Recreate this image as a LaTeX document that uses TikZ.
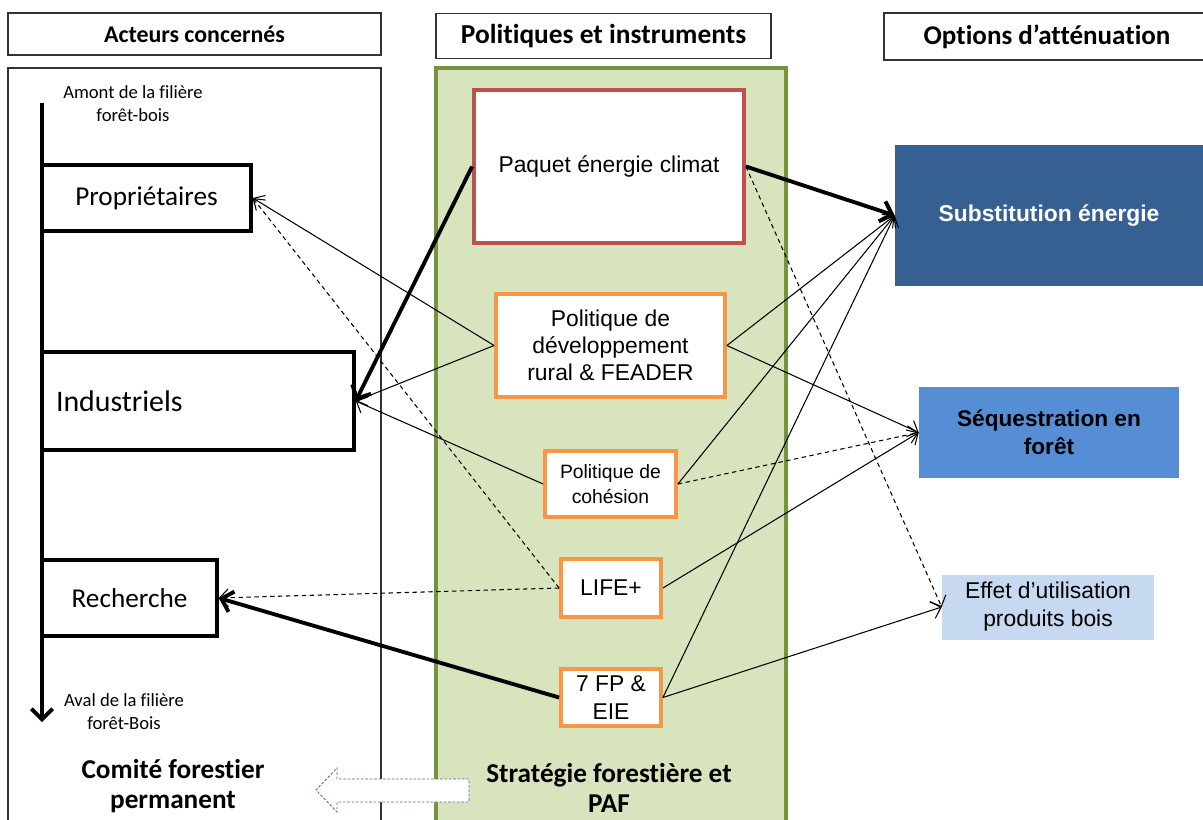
\documentclass[tikz,border=0pt]{standalone}
\usepackage{fontspec}
\setmainfont{Carlito}[Ligatures=NoCommon]
\newfontfamily\arialfont{Liberation Sans}
\usetikzlibrary{arrows.meta}

\definecolor{vertfond}{HTML}{D7E4BD}
\definecolor{vertbord}{HTML}{77933C}
\definecolor{rougebord}{HTML}{C0504D}
\definecolor{orangebord}{HTML}{F79646}
\definecolor{bleufonce}{HTML}{376092}
\definecolor{bleumoyen}{HTML}{558ED5}
\definecolor{bleuclair}{HTML}{C6D9F1}
\definecolor{bleutrait}{HTML}{4A6A9C}

\begin{document}
\begin{tikzpicture}
  [x=0.02cm,y=-0.02cm,
   every node/.style={inner sep=0pt},
   entete/.style={draw=black!80,line width=0.7pt,font=\bfseries},
   acteur/.style={draw,line width=2pt,fill=white},
   petit/.style={align=center,font=\fontsize{10.6}{13}\selectfont},
   titre/.style={align=center,font=\bfseries\fontsize{15.5}{17.5}\selectfont},
   politique/.style={draw=orangebord,line width=2.2pt,fill=white,align=center,
                     font=\arialfont\fontsize{13}{15.5}\selectfont},
   option/.style={align=center,font=\arialfont\fontsize{13}{16}\selectfont},
   lien/.style={line width=0.6pt,-{Straight Barb[length=5pt,width=10pt]}},
   pointille/.style={lien,dash pattern=on 2.5pt off 2pt},
   epais/.style={line width=2.2pt,-{Straight Barb[length=6pt,width=12pt]}}]

  \useasboundingbox (0,0) rectangle (1203,819);
  \clip (0,0) rectangle (1203,819);

  % en-tetes
  \node[entete,minimum width=7.46cm,minimum height=0.84cm,font=\bfseries\fontsize{13.6}{15}\selectfont] (hacteurs) at (194.5,34) {Acteurs concernés};
  \node[entete,minimum width=6.7cm,minimum height=0.9cm,font=\bfseries\fontsize{15.6}{18}\selectfont] (hpolitiques) at (603.5,36) {Politiques et instruments};
  \node[entete,minimum width=6.52cm,minimum height=0.94cm,font=\bfseries\fontsize{15.4}{18}\selectfont] (hoptions) at (1047,36.5) {Options d’atténuation};

  % cadres
  \draw[black!80,line width=0.7pt] (8,68) rectangle (381,840);
  \draw[vertbord,fill=vertfond,line width=2.2pt] (436,68) rectangle (786,840);

  % acteurs
  \coordinate (amont) at (42,103);
  \coordinate (aval) at (42,722);
  \draw[line width=2.2pt,-{Straight Barb[length=6pt,width=12pt]}] (amont) -- (aval);
  \node[petit] (tamont) at (133,104) {Amont de la filière\\forêt-bois};
  \node[acteur,minimum width=4.18cm,minimum height=1.32cm,font=\fontsize{15.5}{18}\selectfont] (prop) at (146.5,198) {Propriétaires};
  \node[acteur,minimum height=1.96cm,text width=5.68cm,inner xsep=0.28cm,align=left,font=\fontsize{17}{19}\selectfont] (indus) at (198,401) {Industriels};
  \node[acteur,minimum width=3.5cm,minimum height=1.52cm,font=\fontsize{15.5}{18}\selectfont] (rech) at (129.5,598) {Recherche};
  \node[petit] (taval) at (124,712) {Aval de la filière\\forêt-Bois};
  \node[titre] (comite) at (173,786) {Comité forestier\\permanent};

  % fleche vers le comite
  \draw[bleutrait,fill=white,line width=0.5pt,dash pattern=on 1.5pt off 1pt]
    (469,779) -- (337,779) -- (337,768) -- (316,790) -- (337,812) -- (337,802) -- (469,802) -- cycle;

  % politiques et instruments
  \node[politique,draw=rougebord,minimum width=5.4cm,minimum height=3.06cm] (paquet) at (609,166.5) {Paquet énergie climat};
  \node[politique,minimum width=4.58cm,minimum height=2.06cm] (devrural) at (610.5,345.5) {Politique de\\développement\\rural \& FEADER};
  \node[politique,minimum width=2.62cm,minimum height=1.32cm,font=\arialfont\fontsize{11}{14}\selectfont] (cohesion) at (610.5,484) {Politique de\\cohésion};
  \node[politique,minimum width=2cm,minimum height=1.16cm] (life) at (611,588) {LIFE+};
  \node[politique,minimum width=2cm,minimum height=1.14cm] (fp) at (611,697.5) {7 FP \&\\EIE};
  \node[titre] (strategie) at (609,788) {Stratégie forestière et\\PAF};

  % options
  \node[option,fill=bleufonce,text=white,minimum width=6.16cm,minimum height=2.82cm,font=\arialfont\bfseries\fontsize{13}{15}\selectfont] (subst) at (1049,215.5) {Substitution énergie};
  \node[option,fill=bleumoyen,minimum width=5.2cm,minimum height=1.82cm,font=\arialfont\bfseries\fontsize{12.9}{16}\selectfont] (sequest) at (1049,432.5) {Séquestration en\\forêt};
  \node[option,fill=bleuclair,minimum width=4.24cm,minimum height=1.3cm] (effet) at (1048,607) {Effet d’utilisation\\produits bois};

  \foreach \from/\to in {devrural.west/prop.east,devrural.west/indus.east,devrural.east/subst.west,devrural.east/sequest.west,cohesion.west/indus.east,cohesion.east/subst.west,life.east/sequest.west,fp.east/subst.west,fp.east/effet.west}
    \draw[lien] (\from) -- (\to);

  \foreach \from/\to in {paquet.east/effet.west,cohesion.east/sequest.west,life.west/prop.east,life.west/rech.east}
    \draw[pointille] (\from) -- (\to);

  \foreach \from/\to in {paquet.west/indus.east,paquet.east/subst.west,fp.west/rech.east}
    \draw[epais] (\from) -- (\to);

\end{tikzpicture}
\end{document}
